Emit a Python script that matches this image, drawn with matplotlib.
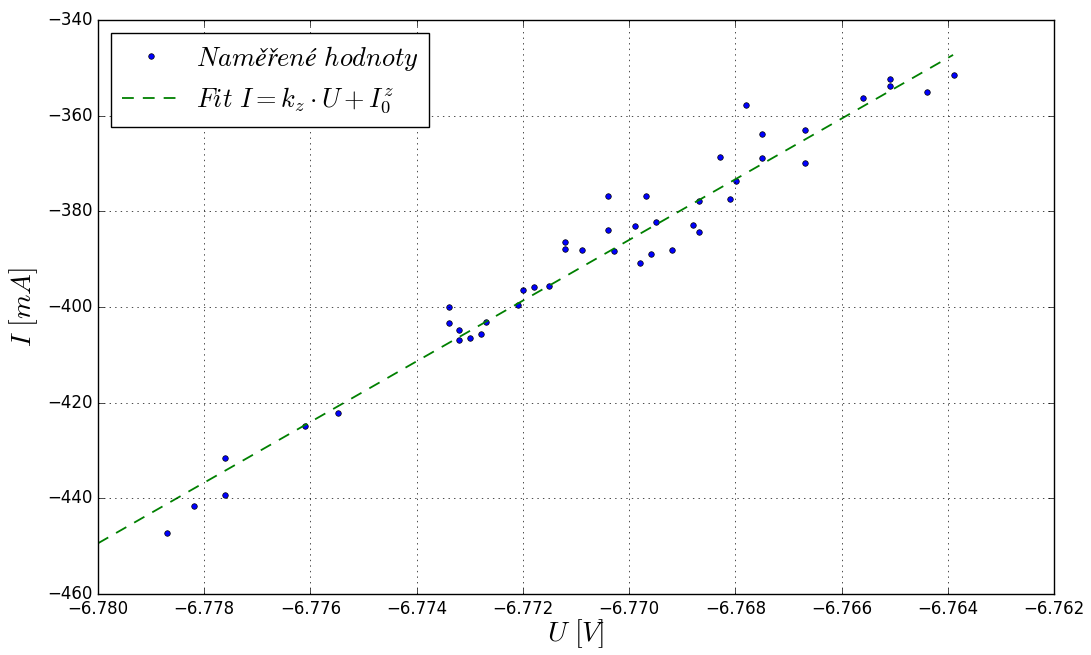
import matplotlib
matplotlib.use('Agg')
import matplotlib.pyplot as plt

# measured points
U = [-6.77870, -6.77820, -6.77760, -6.77760, -6.77610, -6.77549,
     -6.77339, -6.77339, -6.77320, -6.77320, -6.77300, -6.77279, -6.77269,
     -6.77210, -6.77199, -6.77180, -6.77150, -6.77120, -6.77120, -6.77089,
     -6.77039, -6.77039, -6.77029, -6.76989, -6.76979, -6.76969, -6.76959,
     -6.76949, -6.76919, -6.76880, -6.76869, -6.76869, -6.76810, -6.76799,
     -6.76829, -6.76779, -6.76749, -6.76749, -6.76669, -6.76669, -6.76560,
     -6.76509, -6.76509, -6.76439, -6.76389]
I = [-447.2, -441.7, -431.5, -439.2, -424.8, -422.1,
     -399.9, -403.3, -404.9, -407.0, -406.5, -405.6, -403.2,
     -399.6, -396.4, -395.9, -395.7, -386.4, -387.8, -388.1,
     -376.7, -383.9, -388.3, -383.1, -390.8, -376.7, -389.0,
     -382.3, -388.0, -382.9, -384.3, -377.9, -377.4, -373.6,
     -368.7, -357.8, -363.8, -368.9, -362.9, -370.0, -356.4,
     -352.4, -353.7, -355.1, -351.6]

# fit line end points
fit_U = [-6.780, -6.7639]
fit_I = [-449.4, -347.3]

plt.style.use('classic')
plt.rcParams['mathtext.fontset'] = 'cm'

fig = plt.figure(figsize=(10.91, 6.55), dpi=100)
ax = fig.add_axes([0.0898, 0.0931, 0.8763, 0.8764])

ax.plot(U, I, 'b.', ms=8, mec='k', mew=0.5,
        label=r'$Naměřené\ hodnoty$')
ax.plot(fit_U, fit_I, 'g--', lw=1.3, dashes=[8.5, 6.5],
        label=r'$Fit\ I=k_z\cdot U+I_0^z$')

ax.set_xlim(-6.780, -6.762)
ax.set_ylim(-460, -340)
ax.set_xticks([-6.780 + 0.002 * i for i in range(10)])
ax.xaxis.set_major_formatter(matplotlib.ticker.ScalarFormatter(useOffset=False))
ax.grid(True)
ax.set_xlabel(r'$U\ [V]$', fontsize=20, labelpad=0)
ax.set_ylabel(r'$I\ [mA]$', fontsize=20)
ax.legend(loc='upper left', numpoints=1, fontsize=19, handlelength=2.2,
          handletextpad=0.6)

fig.savefig('out.png', dpi=100)
